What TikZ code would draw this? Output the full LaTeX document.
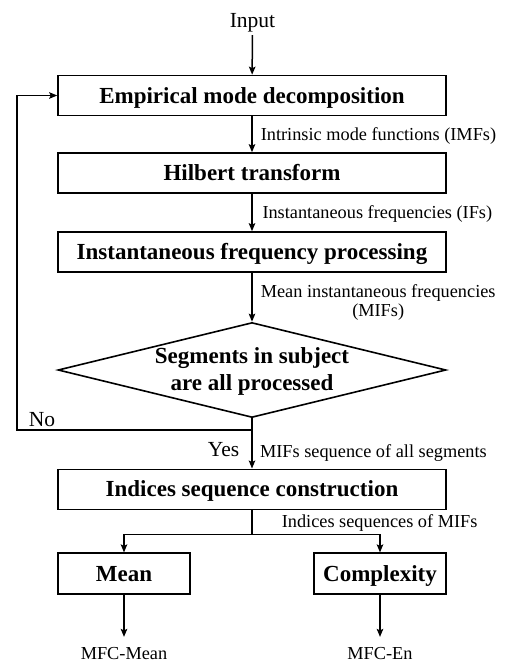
\documentclass[tikz,border=0pt]{standalone}
\usepackage{fontspec}
\setmainfont{Liberation Serif}
\usetikzlibrary{arrows.meta,shapes.geometric}

\begin{document}
\begin{tikzpicture}[x=1pt,y=-1pt,
  line width=1.6pt,
  arr/.style={-{Stealth[length=8pt,width=6.5pt,inset=1.5pt]}, line width=1.5pt},
  link/.style={line width=1.5pt},
  stage/.style={draw, rectangle, minimum width=388pt, minimum height=40pt, inner sep=0pt,
                font=\fontsize{23}{27.5}\selectfont\bfseries, text height=15pt, text depth=0pt},
  smallstage/.style={stage, minimum width=132pt, minimum height=41pt},
  decision/.style={draw, diamond, minimum width=388pt, minimum height=95pt, inner sep=0pt},
  decisiontext/.style={align=center, inner sep=0pt, font=\fontsize{23}{27.5}\selectfont\bfseries},
  note/.style={font=\fontsize{18.3}{19}\selectfont, inner sep=0pt},
  tag/.style={font=\fontsize{21.5}{24}\selectfont, inner sep=0pt},
  result/.style={note, outer ysep=10pt},
]
\useasboundingbox (0,0) rectangle (505,662);

% processing stages
\node[tag, anchor=base, outer ysep=3.5pt] (input) at (252.5,27) {Input};
\node[stage] (emd) at (252,95.5) {Empirical mode decomposition};
\node[stage] (hil) at (252,173) {Hilbert transform};
\node[stage] (ifp) at (252,252) {Instantaneous frequency processing};
\node[decision] (dia) at (252,370) {};
\node[decisiontext] (diatext) at (252,371.5) {Segments in subject\\are all processed};
\node[stage] (isc) at (252,489.3) {Indices sequence construction};
\node[smallstage] (mean) at (124,573.7) {Mean};
\node[smallstage] (cplx) at (380,573.7) {Complexity};
\node[result, anchor=base] (outmean) at (124,659) {MFC-Mean};
\node[result, anchor=base] (outen) at (380,659) {MFC-En};

% data passed between stages
\node[note, anchor=base west] (limf) at (260,140) {Intrinsic mode functions (IMFs)};
\node[note, anchor=base west] (lif) at (261.7,218.5) {Instantaneous frequencies (IFs)};
\node[note, align=center, anchor=west] (lmif) at (260,302.3) {Mean instantaneous frequencies\\(MIFs)};
\node[note, anchor=base west] (lseq) at (259.3,457) {MIFs sequence of all segments};
\node[note, anchor=base west] (lidx) at (281,527.7) {Indices sequences of MIFs};
\node[tag, anchor=base east] (yes) at (240,456) {Yes};
\node[tag, anchor=base west] (no) at (28,426) {No};

% junction points
\coordinate (j) at (252,430);
\coordinate (lc) at (17,430);
\coordinate (br) at (252,534.5);

% main flow
\draw[arr] (input) -- (emd);
\draw[arr] (emd) -- (hil);
\draw[arr] (hil) -- (ifp);
\draw[arr] (ifp) -- (dia);
\draw[arr] (dia) -- (isc);

% loop back for the next segment
\draw[arr] (j) -- (lc) |- (emd);

% split into the two indices
\draw[link] (isc) -- (br);
\draw[arr] (br) -| (mean);
\draw[arr] (br) -| (cplx);
\draw[arr] (mean) -- (outmean);
\draw[arr] (cplx) -- (outen);
\end{tikzpicture}
\end{document}
